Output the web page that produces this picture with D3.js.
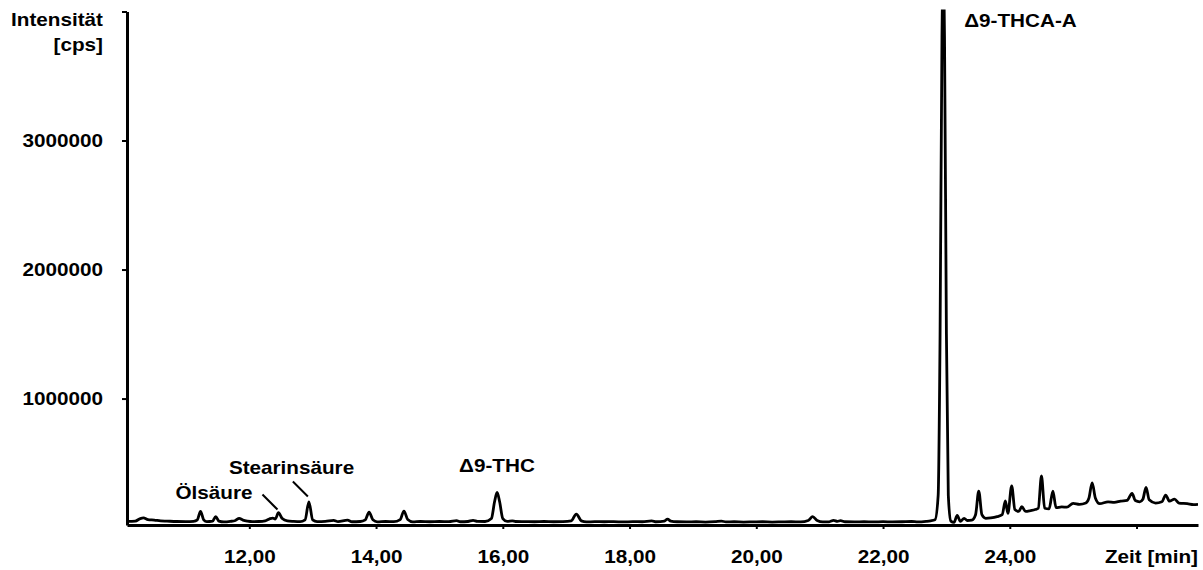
<!DOCTYPE html>
<html>
<head>
<meta charset="utf-8">
<script src="https://cdn.jsdelivr.net/npm/d3@7"></script>
<style>
  html, body { margin: 0; padding: 0; background: #fff; }
  svg text { font-family: Arial, "Liberation Sans", Helvetica, sans-serif; font-weight: bold; fill: #000; }
</style>
</head>
<body>
<svg id="chart" width="1203" height="570"></svg>
<script>
// Retention time [min] of each recorded point of the chromatogram
const retentionTime = [
  10.07, 10.20, 10.28, 10.33, 10.40, 10.50, 10.60, 10.70, 10.85, 11.00,
  11.12, 11.18, 11.23, 11.28, 11.33, 11.42, 11.47, 11.52, 11.60, 11.70,
  11.78, 11.84, 11.90, 11.97, 12.05, 12.15, 12.25, 12.32, 12.37, 12.41,
  12.46, 12.52, 12.60, 12.70, 12.80, 12.88, 12.94, 13.00, 13.07, 13.20,
  13.33, 13.40, 13.55, 13.62, 13.75, 13.83, 13.89, 13.95, 14.02, 14.15,
  14.28, 14.38, 14.44, 14.50, 14.58, 14.70, 14.85, 15.00, 15.15, 15.27,
  15.33, 15.45, 15.53, 15.60, 15.72, 15.82, 15.87, 15.91, 15.95, 16.00,
  16.07, 16.15, 16.20, 16.35, 16.50, 16.65, 16.80, 16.95, 17.08, 17.16,
  17.24, 17.32, 17.45, 17.60, 17.75, 17.90, 18.05, 18.20, 18.35, 18.42,
  18.55, 18.60, 18.65, 18.75, 18.90, 19.05, 19.20, 19.35, 19.45, 19.52,
  19.65, 19.80, 19.95, 20.10, 20.25, 20.40, 20.55, 20.70, 20.82, 20.89,
  20.96, 21.05, 21.15, 21.22, 21.28, 21.33, 21.40, 21.55, 21.70, 21.85,
  22.00, 22.15, 22.30, 22.45, 22.55, 22.68, 22.75, 22.82, 22.87, 22.90,
  22.93, 22.95, 22.97, 23.00, 23.03, 23.07, 23.12, 23.17, 23.22, 23.28,
  23.33, 23.40, 23.46, 23.51, 23.56, 23.62, 23.70, 23.80, 23.88, 23.93,
  23.97, 24.03, 24.08, 24.14, 24.19, 24.25, 24.33, 24.40, 24.45, 24.50,
  24.55, 24.62, 24.68, 24.73, 24.82, 24.90, 25.00, 25.10, 25.20, 25.25,
  25.30, 25.35, 25.42, 25.55, 25.65, 25.75, 25.85, 25.93, 25.98, 26.05,
  26.10, 26.15, 26.20, 26.30, 26.40, 26.46, 26.52, 26.60, 26.67, 26.80,
  26.90, 26.97
];

// Detector intensity [cps] at each retention time
const intensity = [
  48000, 50000, 70000, 75000, 62000, 58000, 52000, 50000, 47000, 46000,
  48000, 60000, 125000, 60000, 46000, 50000, 85000, 50000, 44000, 48000,
  55000, 72000, 58000, 50000, 46000, 47000, 52000, 68000, 74000, 66000,
  115000, 70000, 52000, 48000, 46000, 60000, 200000, 60000, 46000, 48000,
  56000, 46000, 58000, 45000, 47000, 60000, 120000, 60000, 44000, 47000,
  46000, 62000, 128000, 62000, 44000, 47000, 45000, 47000, 46000, 54000,
  45000, 47000, 56000, 48000, 47000, 70000, 200000, 272000, 200000, 70000,
  48000, 52000, 47000, 46000, 45000, 47000, 45000, 46000, 52000, 105000,
  52000, 44000, 46000, 45000, 46000, 44000, 46000, 45000, 52000, 45000,
  50000, 66000, 50000, 45000, 44000, 45000, 43000, 46000, 50000, 44000,
  45000, 43000, 44000, 45000, 43000, 44000, 45000, 44000, 55000, 85000,
  55000, 44000, 45000, 56000, 48000, 54000, 45000, 44000, 45000, 44000,
  46000, 44000, 45000, 47000, 44000, 48000, 52000, 60000, 250000, 1500000,
  3800000, 4300000, 3800000, 1500000, 250000, 50000, 40000, 95000, 48000, 72000,
  55000, 58000, 100000, 283000, 100000, 72000, 75000, 85000, 100000, 206000,
  110000, 324000, 140000, 125000, 162000, 125000, 132000, 140000, 150000, 400000,
  150000, 145000, 283000, 155000, 160000, 158000, 188000, 180000, 190000, 230000,
  347000, 230000, 185000, 200000, 195000, 205000, 210000, 265000, 210000, 200000,
  220000, 312000, 215000, 190000, 200000, 252000, 205000, 221000, 190000, 185000,
  178000, 180000
];

// Axis ticks
const xTicks = [12, 14, 16, 18, 20, 22, 24, 26];
const yTicks = [1000000, 2000000, 3000000, 4000000];

// Named compounds: label text and the retention time of their peak
const peakNames = ["Ölsäure", "Stearinsäure", "\u03949-THC", "\u03949-THCA-A"];
const peakTimes = [12.46, 12.94, 15.91, 22.95];

const svg = d3.select("#chart");
const margin = { left: 127, right: 5, top: 11.5, bottom: 45 };
const W = 1203, H = 570;
const FONT = 18;      // label font size
const SX = 1.15;      // horizontal widening of the lettering

const x = d3.scaleLinear().domain([10.07, 26.97]).range([margin.left, W - margin.right]);
const y = d3.scaleLinear().domain([20000, 4000000]).range([H - margin.bottom, margin.top]);

const fmtTime = t => d3.format(".2f")(t).replace(".", ",");

// Places a widened text label with its anchor at (px, py)
function label(parent, px, py, str, anchor = "start") {
  return parent.append("text")
    .attr("transform", `translate(${px},${py}) scale(${SX},1)`)
    .attr("text-anchor", anchor)
    .attr("font-size", FONT)
    .text(str);
}

// Clip the trace to the plotting area
svg.append("defs").append("clipPath").attr("id", "plotClip")
  .append("rect")
  .attr("x", margin.left).attr("y", margin.top - 2)
  .attr("width", W - margin.right - margin.left)
  .attr("height", H - margin.bottom - margin.top + 2);

// Chromatogram trace
const points = retentionTime.map((t, i) => [t, intensity[i]]);
const line = d3.line().x(d => x(d[0])).y(d => y(d[1])).curve(d3.curveMonotoneX);
svg.append("path")
  .datum(points)
  .attr("clip-path", "url(#plotClip)")
  .attr("fill", "none")
  .attr("stroke", "#000")
  .attr("stroke-width", 2.8)
  .attr("stroke-linejoin", "round")
  .attr("d", line);

// X axis
const xAxis = svg.append("g")
  .attr("transform", `translate(0,${y.range()[0]})`)
  .call(d3.axisBottom(x).tickValues(xTicks).tickSize(4).tickSizeOuter(0).tickFormat(fmtTime));
xAxis.select(".domain").attr("stroke", "#000").attr("stroke-width", 3);
xAxis.selectAll(".tick line").attr("stroke", "#000").attr("stroke-width", 2);
xAxis.selectAll(".tick text")
  .attr("font-size", FONT).attr("dy", null).attr("y", 38)
  .attr("transform", `scale(${SX},1)`)
  .text(d => d === 26 ? "" : fmtTime(d));

// Y axis
const yAxis = svg.append("g")
  .attr("transform", `translate(${margin.left},0)`)
  .call(d3.axisLeft(y).tickValues(yTicks).tickSize(5).tickSizeOuter(0).tickFormat(d3.format("d")));
yAxis.select(".domain").attr("stroke", "#000").attr("stroke-width", 3);
yAxis.selectAll(".tick line").attr("stroke", "#000").attr("stroke-width", 2);
yAxis.selectAll(".tick text")
  .attr("font-size", FONT).attr("x", -24 / SX)
  .attr("transform", `scale(${SX},1)`)
  .text(d => d === 4000000 ? "" : d3.format("d")(d));

// Axis titles
label(svg, margin.left - 24, 26, "Intensität", "end");
label(svg, margin.left - 24, 51, "[cps]", "end");
label(svg, x(26.97), y.range()[0] + 38, "Zeit [min]", "end");

// Peak annotations
const g = svg.append("g");
const y0 = y(0);

// Ölsäure with leader line
label(g, x(peakTimes[0]) - 103, y0 - 29, peakNames[0]);
g.append("line")
  .attr("x1", x(peakTimes[0]) - 16).attr("y1", y0 - 33)
  .attr("x2", x(peakTimes[0]) - 1).attr("y2", y0 - 18)
  .attr("stroke", "#000").attr("stroke-width", 2);

// Stearinsäure with leader line
label(g, x(peakTimes[1]) - 80, y0 - 54, peakNames[1]);
g.append("line")
  .attr("x1", x(peakTimes[1]) - 16).attr("y1", y0 - 46)
  .attr("x2", x(peakTimes[1]) - 1).attr("y2", y0 - 31)
  .attr("stroke", "#000").attr("stroke-width", 2);

// Δ9-THC
label(g, x(peakTimes[2]) - 38, y0 - 56, peakNames[2]);

// Δ9-THCA-A
label(g, x(peakTimes[3]) + 21, y(4000000) + 15, peakNames[3]);
</script>
</body>
</html>
